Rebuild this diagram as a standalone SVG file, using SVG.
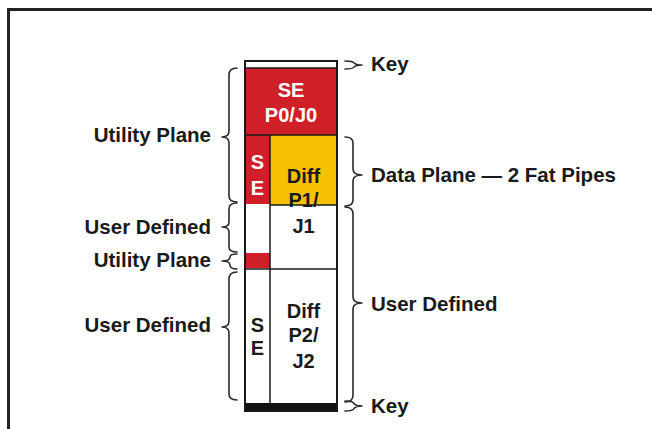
<svg xmlns="http://www.w3.org/2000/svg" width="652" height="429" viewBox="0 0 652 429">
<style>
.lbl{font-family:"Liberation Sans",Arial,sans-serif;font-weight:bold;font-size:20.5px;fill:#1a1a1a}
.in{font-family:"Liberation Sans",Arial,sans-serif;font-weight:bold;font-size:20px;text-anchor:middle}
.w{fill:#ffffff}
.k{fill:#1a1a1a}
.br{fill:none;stroke:#2a2a2a;stroke-width:1.6;stroke-linecap:round;stroke-linejoin:round}
.ln{stroke:#1a1a1a;stroke-width:1.5;fill:none}
</style>
<rect x="0" y="0" width="652" height="429" fill="#ffffff"/>
<path d="M8.5,429 L8.5,9.5 L652,9.5" fill="none" stroke="#222" stroke-width="3"/>

<g id="column">
  <rect x="245" y="61" width="92" height="7" fill="#ffffff"/>
  <rect x="245" y="68" width="92" height="67" fill="#cf1f28"/>
  <rect x="245" y="135" width="25" height="69" fill="#cf1f28"/>
  <rect x="270" y="135" width="67" height="70" fill="#f6c100"/>
  <rect x="245" y="253" width="25" height="15" fill="#cf1f28"/>
  <rect x="245" y="403" width="92" height="8" fill="#111"/>
  <line class="ln" x1="245" y1="68" x2="337" y2="68"/>
  <line class="ln" x1="270" y1="135" x2="270" y2="403" stroke-width="1.2"/>
  <line class="ln" x1="245" y1="135" x2="337" y2="135" stroke="#8a1a1a" stroke-width="1"/>
  <line class="ln" x1="270" y1="205" x2="337" y2="205" stroke-width="1"/>
  <line class="ln" x1="245" y1="269" x2="337" y2="269" stroke-width="1.5"/>
  <rect x="245" y="61" width="92" height="350" fill="none" stroke="#1a1a1a" stroke-width="2"/>
</g>

<g id="se-p0">
  <text class="in w" x="291" y="97">SE</text>
  <text class="in w" x="291" y="122">P0/J0</text>
</g>
<g id="se-upper">
  <text class="in w" x="257.5" y="169">S</text>
  <text class="in w" x="257.5" y="195">E</text>
</g>
<g id="diff-p1">
  <text class="in k" x="303.5" y="183">Diff</text>
  <text class="in k" x="303.5" y="206.5">P1/</text>
  <text class="in k" x="303.5" y="233">J1</text>
</g>
<g id="se-lower">
  <text class="in k" x="257.5" y="332">S</text>
  <text class="in k" x="257.5" y="355">E</text>
</g>
<g id="diff-p2">
  <text class="in k" x="303.5" y="318">Diff</text>
  <text class="in k" x="303.5" y="341.5">P2/</text>
  <text class="in k" x="303.5" y="368">J2</text>
</g>

<g id="connectors">
  <path class="br" d="M237,68 Q229,68 229,75 L229,131 Q229,137 222,137 Q229,137 229,143 L229,196 Q229,202 237,202"/>
  <path class="br" d="M237,203 Q229,203 229,209 L229,222 Q229,227 222,227 Q229,227 229,232 L229,247 Q229,252 237,252"/>
  <path class="br" d="M237,254 Q230,254 230,257 Q230,261 222,261 Q230,261 230,265 Q230,269 237,269"/>
  <path class="br" d="M237,272 Q229,272 229,279 L229,321 Q229,327 222,327 Q229,327 229,333 L229,394 Q229,400 237,400"/>
  <path class="br" d="M345,61 Q353,61 354,63 Q356,65 362,65 Q356,65 354,67 Q353,69 345,69"/>
  <path class="br" d="M345,137 Q353,137 353,143 L353,169 Q353,175 362,175 Q353,175 353,181 L353,200 Q353,206 345,206"/>
  <path class="br" d="M345,207 Q353,207 353,214 L353,297 Q353,303 362,303 Q353,303 353,309 L353,395 Q353,402 345,402"/>
  <path class="br" d="M345,401 Q353,401 354,403.5 Q356,406 362,406 Q356,406 354,408.5 Q353,411 345,411"/>
</g>

<g id="labels-left">
  <text class="lbl" x="211" y="142" text-anchor="end">Utility Plane</text>
  <text class="lbl" x="211" y="234" text-anchor="end">User Defined</text>
  <text class="lbl" x="211" y="267" text-anchor="end">Utility Plane</text>
  <text class="lbl" x="211" y="331.5" text-anchor="end">User Defined</text>
</g>
<g id="labels-right">
  <text class="lbl" x="371" y="70.5">Key</text>
  <text class="lbl" x="371" y="181.7">Data Plane — 2 Fat Pipes</text>
  <text class="lbl" x="371" y="311">User Defined</text>
  <text class="lbl" x="371" y="412.5">Key</text>
</g>
</svg>
